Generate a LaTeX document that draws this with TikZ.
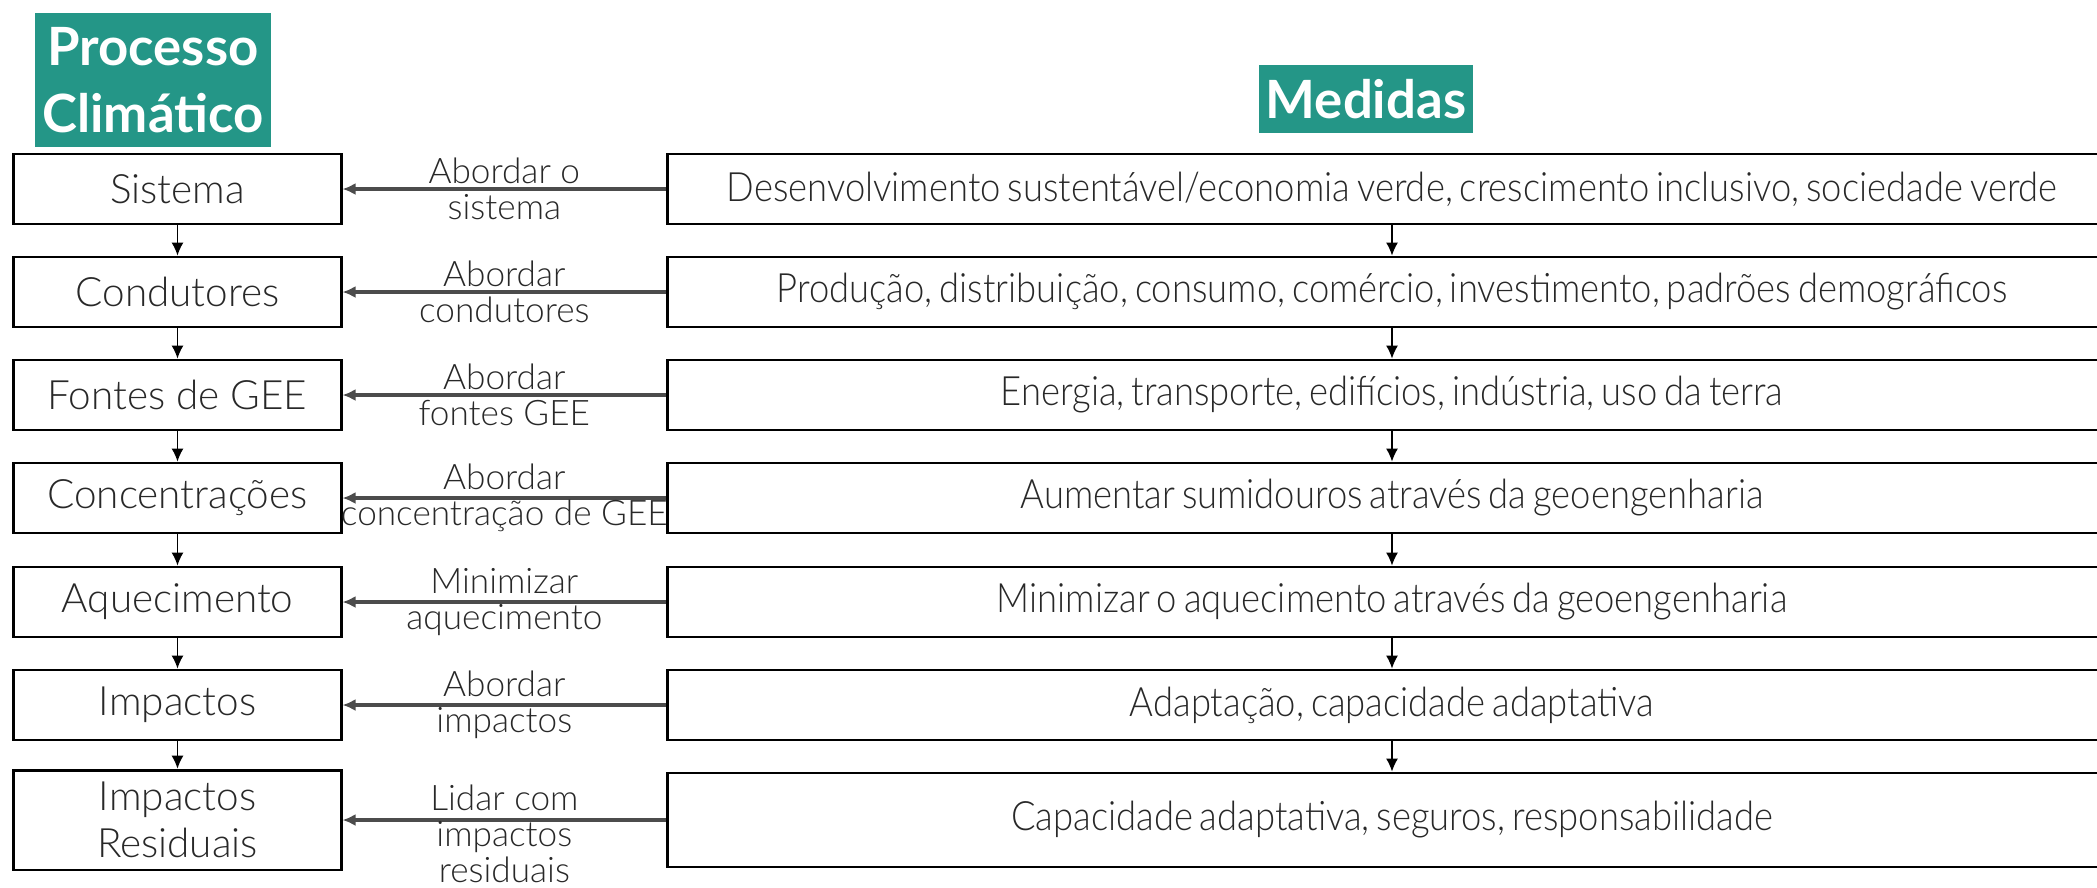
\documentclass[tikz,border=0pt]{standalone}
\usepackage{fontspec}
\IfFontExistsTF{Lato Light}{%
	\setmainfont{Lato Light}
	\newfontfamily\medfont{Lato Light}[FakeStretch=0.9,WordSpace=0.7]
}{%
	\setmainfont{Lato}
	\newfontfamily\medfont{Lato}[FakeStretch=0.9,WordSpace=0.7]
}
\newfontfamily\headfont{Lato}
\usetikzlibrary{arrows.meta}
\definecolor{tealhead}{RGB}{36,150,135}
\definecolor{texto}{RGB}{40,40,40}

\begin{document}
\begin{tikzpicture}[x=0.01cm,y=-0.01cm,>={Latex[length=1.3mm,width=1.2mm]},
	titulo/.style={fill=tealhead, text=white, font=\headfont\bfseries\fontsize{15}{19}\selectfont, align=center, inner xsep=2pt, inner ysep=4pt},
	processo/.style={draw, thick, minimum width=3.27cm, minimum height=0.7cm, align=center, text=texto, font=\fontsize{11.5}{13.5}\selectfont},
	medida/.style={draw, thick, minimum width=14.48cm, minimum height=0.7cm, text=texto, font=\medfont\fontsize{11.5}{13.5}\selectfont},
	seta/.style={->, black!70, line width=0.9pt},
	rotulo/.style={align=center, text=texto, font=\fontsize{10}{10.2}\selectfont, inner sep=1pt}]

\useasboundingbox (0,0) rectangle (2097,887);

%----------------------------
% Headers
%----------------------------
\node[titulo] (proc) at (153,80) {Processo\\Climático};
\node[titulo] (med) at (1366,99) {Medidas};

%----------------------------
% Left: climate process chain
%----------------------------
\node[processo] (L1) at (177.5,189) {Sistema};
\node[processo] (L2) at (177.5,292) {Condutores};
\node[processo] (L3) at (177.5,395) {Fontes de GEE};
\node[processo] (L4) at (177.5,498) {Concentrações};
\node[processo] (L5) at (177.5,602) {Aquecimento};
\node[processo] (L6) at (177.5,705) {Impactos};
\node[processo, minimum height=0.94cm] (L7) at (177.5,820) {Impactos\\Residuais};

%----------------------------
% Right: measures
%----------------------------
\node[medida] (R1) at (1392,189) {Desenvolvimento sustentável/economia verde, crescimento inclusivo, sociedade verde};
\node[medida] (R2) at (1392,292) {Produção, distribuição, consumo, comércio, investimento, padrões demográficos};
\node[medida] (R3) at (1392,395) {Energia, transporte, edifícios, indústria, uso da terra};
\node[medida] (R4) at (1392,498) {Aumentar sumidouros através da geoengenharia};
\node[medida] (R5) at (1392,602) {Minimizar o aquecimento através da geoengenharia};
\node[medida] (R6) at (1392,705) {Adaptação, capacidade adaptativa};
\node[medida, minimum height=0.94cm] (R7) at (1392,820) {Capacidade adaptativa, seguros, responsabilidade};

% chains
\foreach \i/\j in {1/2,2/3,3/4,4/5,5/6,6/7}{
	\draw[->] (L\i) -- (L\j);
	\draw[->] (R\i) -- (R\j);
}

%----------------------------
% Arrows: measure -> process
%----------------------------
\draw[seta] (R1) -- (L1) node[rotulo, midway] (a1) {Abordar o\\sistema};
\draw[seta] (R2) -- (L2) node[rotulo, midway] (a2) {Abordar\\condutores};
\draw[seta] (R3) -- (L3) node[rotulo, midway] (a3) {Abordar\\fontes GEE};
\draw[seta] (R4) -- (L4) node[rotulo, midway] (a4) {Abordar\\concentração de GEE};
\draw[seta] (R5) -- (L5) node[rotulo, midway] (a5) {Minimizar\\aquecimento};
\draw[seta] (R6) -- (L6) node[rotulo, midway] (a6) {Abordar\\impactos};
\draw[seta] (R7) -- (L7) node[rotulo, midway, yshift=-4pt] (a7) {Lidar com\\impactos\\residuais};

\end{tikzpicture}
\end{document}
